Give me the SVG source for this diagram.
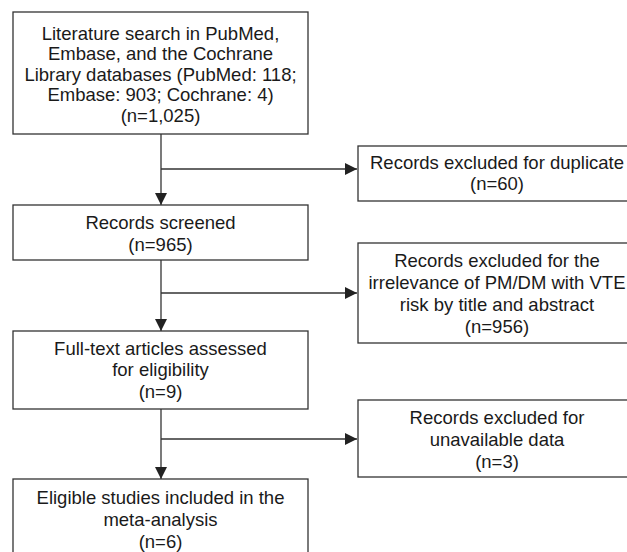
<svg xmlns="http://www.w3.org/2000/svg" width="627" height="552" viewBox="0 0 627 552">
<style>
.box{fill:#fff;stroke:#333;stroke-width:1.3}
.ln{fill:none;stroke:#333;stroke-width:1.3}
text{font-family:"Liberation Sans",Arial,sans-serif;font-size:18.5px;fill:#1a1a1a;text-anchor:middle}
</style>
<defs>
<marker id="ah" markerWidth="12" markerHeight="12" refX="12" refY="6" orient="auto" markerUnits="userSpaceOnUse">
<path d="M0,0 L12,6 L0,12 Z" fill="#222"/>
</marker>
</defs>
<rect width="627" height="552" fill="#fff"/>
<g id="connectors">
<path class="ln" d="M161,134 V205" marker-end="url(#ah)"/>
<path class="ln" d="M161,169 H357" marker-end="url(#ah)"/>
<path class="ln" d="M161,260 V331" marker-end="url(#ah)"/>
<path class="ln" d="M161,293 H357" marker-end="url(#ah)"/>
<path class="ln" d="M161,409 V479" marker-end="url(#ah)"/>
<path class="ln" d="M161,439 H357" marker-end="url(#ah)"/>
</g>
<g id="search">
<rect class="box" x="13" y="12" width="295" height="122"/>
<text x="160.5" y="39.5">Literature search in PubMed,</text>
<text x="160.5" y="60">Embase, and the Cochrane</text>
<text x="160.5" y="80.5">Library databases (PubMed: 118;</text>
<text x="160.5" y="101">Embase: 903; Cochrane: 4)</text>
<text x="160.5" y="121.5">(n=1,025)</text>
</g>
<g id="dup">
<rect class="box" x="358" y="146" width="290" height="55"/>
<text x="497" y="168.5">Records excluded for duplicate</text>
<text x="497" y="189.5">(n=60)</text>
</g>
<g id="screened">
<rect class="box" x="13" y="205" width="295" height="55"/>
<text x="160.5" y="228.5">Records screened</text>
<text x="160.5" y="250.5">(n=965)</text>
</g>
<g id="irrelevant">
<rect class="box" x="358" y="243" width="290" height="100"/>
<text x="497" y="266.5">Records excluded for the</text>
<text x="497" y="288.5">irrelevance of PM/DM with VTE</text>
<text x="497" y="310.5">risk by title and abstract</text>
<text x="497" y="332.5">(n=956)</text>
</g>
<g id="fulltext">
<rect class="box" x="13" y="331" width="295" height="78"/>
<text x="160.5" y="354.5">Full-text articles assessed</text>
<text x="160.5" y="375.5">for eligibility</text>
<text x="160.5" y="397.5">(n=9)</text>
</g>
<g id="unavailable">
<rect class="box" x="358" y="400" width="290" height="77"/>
<text x="497" y="423.5">Records excluded for</text>
<text x="497" y="445.5">unavailable data</text>
<text x="497" y="467.5">(n=3)</text>
</g>
<g id="included">
<rect class="box" x="13" y="479" width="295" height="90"/>
<text x="160.5" y="503.5">Eligible studies included in the</text>
<text x="160.5" y="525.5">meta-analysis</text>
<text x="160.5" y="547.5">(n=6)</text>
</g>
</svg>
